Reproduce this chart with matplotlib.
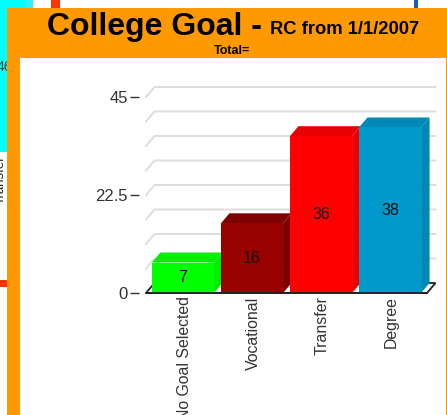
import matplotlib
matplotlib.use('Agg')
import matplotlib.pyplot as plt
from matplotlib.patches import Rectangle, Polygon
from matplotlib.transforms import ScaledTranslation

plt.rcParams['font.family'] = ['Liberation Sans', 'DejaVu Sans']

categories = ['No Goal Selected', 'Vocational', 'Transfer', 'Degree']
values = [7, 16, 36, 38]
front_colors = ['#00ff00', '#990000', '#ff0000', '#0099cc']
top_colors = ['#00f000', '#7f0000', '#e60000', '#0088b8']
side_colors = ['#00ee00', '#800000', '#ee0000', '#0088b5']
y_ticks = [0, 22.5, 45]
y_tick_labels = ['0', '22.5', '45']
grid_vals = [5.625, 11.25, 16.875, 22.5, 28.125, 33.75, 39.375, 45]

W, H = 447, 415
fig = plt.figure(figsize=(W / 100, H / 100), dpi=100, facecolor='white')

# page furniture, in pixels
bg = fig.add_axes([0, 0, 1, 1])
bg.set_xlim(0, W)
bg.set_ylim(H, 0)
bg.axis('off')
bg.add_patch(Rectangle((0, 0), 33, 152, fc='#00ffff', lw=0))
bg.add_patch(Rectangle((25, 0), 8, 8, fc='#33eeff', lw=0))
bg.add_patch(Rectangle((51, 0), 9, 8, fc='#ff3300', lw=0))
bg.add_patch(Rectangle((414, 0), 4, 8, fc='#1060c0', lw=0))
bg.add_patch(Rectangle((0, 280), 7, 7, fc='#ff3300', lw=0))
bg.text(1, 180, 'Transfer', rotation=90, fontsize=9.5, ha='center', va='center', color='#222222', zorder=1.5)
bg.text(-3, 67, '46', fontsize=10, ha='left', va='center', color='#444444', zorder=1.5)
bg.add_patch(Rectangle((7, 8), W - 7, H - 8, fc='#ff9900', lw=0, zorder=2))
bg.add_patch(Rectangle((20, 58.5), 425.5, H - 58.5, fc='white', lw=0, zorder=2))
bg.text(47, 27, 'College Goal -', fontsize=23, fontweight='bold', ha='left', va='center', color='black', zorder=3)
bg.text(270, 29, 'RC from 1/1/2007', fontsize=13.2, fontweight='bold', ha='left', va='center', color='black', zorder=3)
bg.text(232.5, 51, 'Total=', fontsize=9, fontweight='bold', ha='center', va='center', color='black', zorder=3)

# chart axes, 0 sits at y=293 and 45 at y=97
ax = fig.add_axes([146 / W, 1 - 293 / H, 281 / W, 196 / H])
ax.patch.set_alpha(0)
ax.set_xlim(-0.536, 3.536)
ax.set_ylim(0, 45)
for s in ax.spines.values():
    s.set_visible(False)
ax.spines['left'].set_position(('outward', 5))

dx = 8.5 / 69
dy = 10 * 45 / 196
x0, x1 = ax.get_xlim()

for g in grid_vals:
    ax.plot([x0, x0 + dx, x1 + dx], [g, g + dy, g + dy], color='#dddddd', lw=1.4, clip_on=False, zorder=1)

# floor
ax.add_patch(Polygon([(x0, 0), (x0 + dx, dy), (x1 + dx, dy), (x1, 0)], closed=True, fc='white', ec='#222222', lw=1.3, clip_on=False, zorder=1))

w = 0.9
for i, v in enumerate(values):
    l, r = i - w / 2, i + w / 2
    ax.add_patch(Polygon([(l, v), (l + dx, v + dy), (r + dx, v + dy), (r, v)], closed=True, fc=top_colors[i], lw=0, clip_on=False, zorder=3))
    ax.add_patch(Polygon([(r, 0), (r + dx, dy), (r + dx, v + dy), (r, v)], closed=True, fc=side_colors[i], lw=0, clip_on=False, zorder=3))
    ax.bar(i, v, width=w, color=front_colors[i], lw=0, zorder=4)
    ax.text(i, v / 2, str(v), fontsize=11.5, ha='center', va='center', color='#111111', zorder=6)

ax.plot([x0, x1], [0, 0], color='#222222', lw=1.3, clip_on=False, zorder=5)

ax.set_yticks(y_ticks)
ax.set_yticklabels(y_tick_labels, fontsize=12, color='#333333')
ax.tick_params(axis='y', length=6.5, width=1, color='#333333', pad=1.5, left=True)
ax.set_xticks(range(len(categories)))
ax.set_xticklabels(categories, rotation=90, fontsize=11.4, color='#333333')
ax.tick_params(axis='x', length=0, pad=2.5)
for lab in ax.get_xticklabels():
    lab.set_transform(lab.get_transform() + ScaledTranslation(1 / 72, 0, fig.dpi_scale_trans))

fig.savefig('out.png', dpi=100)
